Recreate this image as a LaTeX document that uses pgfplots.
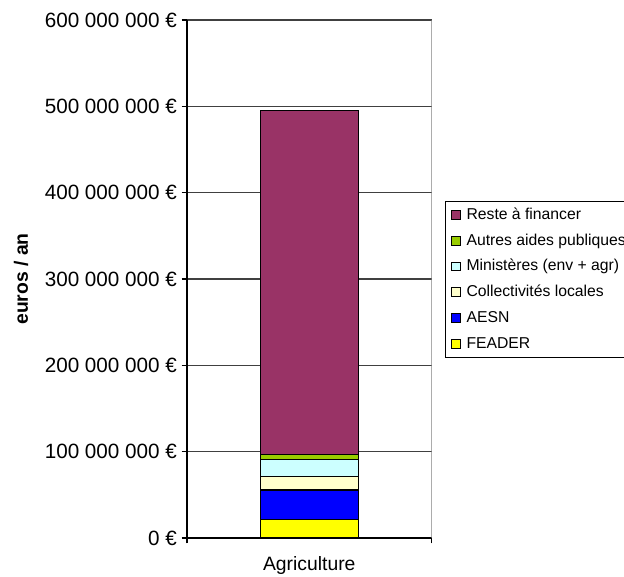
\documentclass[border=0pt]{standalone}
\usepackage{fontspec}
\setmainfont{Liberation Sans}
\usepackage{pgfplots}
\pgfplotsset{compat=1.18}
\definecolor{cReste}{HTML}{993366}
\definecolor{cAutres}{HTML}{99CC00}
\definecolor{cMin}{HTML}{CCFFFF}
\definecolor{cColl}{HTML}{FFFFCC}
\definecolor{cAESN}{HTML}{0000FF}
\definecolor{cFEADER}{HTML}{FFFF00}
\begin{document}
\begin{tikzpicture}
\begin{axis}[
  at={(140.25pt,28.5pt)}, anchor=south west,
  width=183.4pt, height=388.5pt, scale only axis,
  ybar stacked, bar width=0.4,
  xmin=-0.5, xmax=0.5, ymin=0, ymax=600000000,
  axis lines=left, axis line style={-, black, line width=0.8pt},
  xtick={-0.5,0.5}, xticklabels={,},
  ytick={0,100000000,200000000,300000000,400000000,500000000,600000000},
  yticklabels={{0 €},{100 000 000 €},{200 000 000 €},{300 000 000 €},{400 000 000 €},{500 000 000 €},{600 000 000 €}},
  scaled y ticks=false,
  tick align=outside, major tick length=4pt,
  tick style={black, line width=0.8pt},
  ticklabel style={font=\fontsize{15.5}{18}\selectfont},
  ymajorgrids, grid style={black!75, line width=0.8pt},
  xlabel={Agriculture},
  xlabel style={at={(axis description cs:0.5,0)}, anchor=base, yshift=-24.5pt, inner sep=0pt, font=\fontsize{14.5}{17}\selectfont},
  reverse legend,
  legend cell align=left,
  legend image code/.code={\draw[#1, draw=black, line width=0.6pt] (0pt,-3.25pt) rectangle (6.5pt,3.25pt);},
  legend style={at={(rel axis cs:1.0545,0.651)}, anchor=north west,
    draw=black, line width=0.7pt, inner xsep=4.5pt, inner ysep=0.5pt,
    column sep=4.3pt, row sep=0pt,
    font=\fontsize{11.8}{14}\selectfont,
    nodes={inner sep=0pt, text height=13.1pt, text depth=6.25pt}},
  every axis plot/.append style={draw=black, line width=0.8pt},
]
\addplot[fill=cFEADER] coordinates {(0,21000000)};
\addlegendentry{FEADER}
\addplot[fill=cAESN] coordinates {(0,34600000)};
\addlegendentry{AESN}
\addplot[fill=cColl] coordinates {(0,15400000)};
\addlegendentry{Collectivités locales}
\addplot[fill=cMin] coordinates {(0,20200000)};
\addlegendentry{Ministères (env + agr)}
\addplot[fill=cAutres] coordinates {(0,5000000)};
\addlegendentry{Autres aides publiques}
\addplot[fill=cReste] coordinates {(0,398900000)};
\addlegendentry{Reste à financer}
\draw[gray, line width=0.8pt] (rel axis cs:1,0) -- (rel axis cs:1,1);
\end{axis}
\node[rotate=90, font=\fontsize{14.5}{17}\selectfont\bfseries] at (15.75pt,222.75pt) {euros / an};
\pgfresetboundingbox
\useasboundingbox (0,0) rectangle (468pt,432pt);
\end{tikzpicture}
\end{document}
